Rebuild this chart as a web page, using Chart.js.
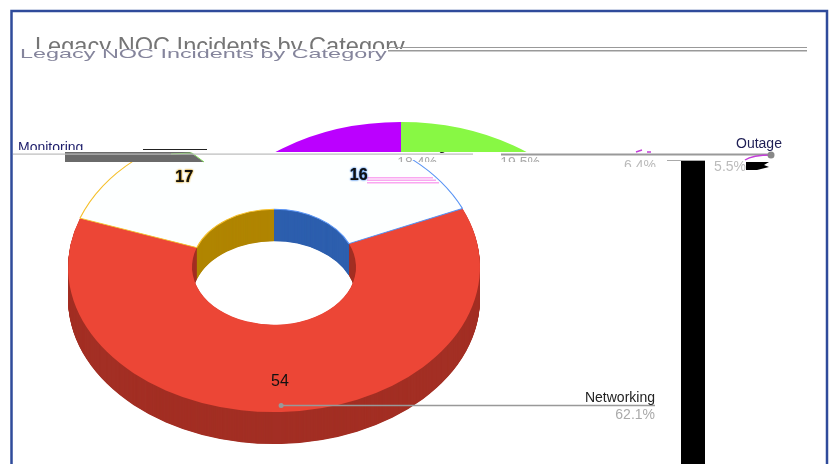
<!DOCTYPE html>
<html>
<head>
<meta charset="utf-8">
<title>Legacy NOC Incidents by Category</title>
<script src="https://cdn.jsdelivr.net/npm/chart.js@4"></script>
<style>
  html, body { margin: 0; padding: 0; background: #fff; overflow: hidden; }
  #wrap { position: relative; width: 830px; height: 464px; }
  canvas { position: absolute; left: 0; top: 0; }
</style>
</head>
<body>
<div id="wrap">
  <canvas id="pieChart" width="830" height="464"></canvas>
  <canvas id="ghostChart" width="830" height="464"></canvas>
</div>
<script>
const chartTitle = 'Legacy NOC Incidents by Category';
// clockwise from 12 o'clock
const categories = ['Routing', 'Networking', 'Monitoring'];
const incidents = [16, 54, 17];
const percents = ['18.4%', '62.1%', '19.5%'];
const strayLabel = 'Outage';
const strayPercents = ['6.4%', '5.5%'];

const topColors = ['#fdffff', '#ec4636', '#fdffff'];
const edgeColors = ['#5b95f5', null, '#f6c02c'];
const wallColors = ['#2d5fae', '#a32f24', '#b08500'];
const ghostColors = ['#88f844', 'rgba(0,0,0,0)', '#bb00ff'];
const labelRadius = [155, 163, 156];
const labelHalo = ['#3b82e6', null, '#d99a00'];

const SQUASH = 0.704;

// chart.js has no 3d pie, so squash the arcs and stack them for the side wall
const squashPlugin = {
    id: 'squash',
    beforeDatasetsDraw(chart, args, opts) {
        if (!opts.depth) return;
        const ctx = chart.ctx;
        const arcs = chart.getDatasetMeta(0).data;
        ctx.save();
        clipBand(ctx, opts);
        for (let d = opts.depth; d > 0; d -= 0.5) {
            ctx.save();
            ctx.translate(0, d);
            squash(ctx, arcs[0]);
            arcs.forEach((arc, i) => {
                const saved = arc.options;
                arc.options = Object.assign({}, saved, { backgroundColor: wallColors[i], borderColor: wallColors[i], borderWidth: 0 });
                arc.draw(ctx);
                arc.options = saved;
            });
            ctx.restore();
        }
        ctx.restore();
    },
    beforeDatasetDraw(chart, args, opts) {
        const ctx = chart.ctx;
        ctx.save();
        clipBand(ctx, opts);
        squash(ctx, args.meta.data[0]);
    },
    afterDatasetDraw(chart, args, opts) {
        const ctx = chart.ctx;
        if (opts.depth) {
            // thin coloured edge on the pale slices, none on the seam between them
            args.meta.data.forEach((arc, i) => {
                if (!edgeColors[i]) return;
                const sideAngle = i === 0 ? arc.endAngle : arc.startAngle;
                ctx.strokeStyle = edgeColors[i];
                ctx.lineWidth = 1.2;
                ctx.beginPath();
                ctx.arc(arc.x, arc.y, arc.outerRadius, arc.startAngle, arc.endAngle);
                ctx.stroke();
                ctx.beginPath();
                ctx.arc(arc.x, arc.y, arc.innerRadius, arc.startAngle, arc.endAngle);
                ctx.stroke();
                ctx.beginPath();
                ctx.moveTo(arc.x + Math.cos(sideAngle) * arc.innerRadius, arc.y + Math.sin(sideAngle) * arc.innerRadius);
                ctx.lineTo(arc.x + Math.cos(sideAngle) * arc.outerRadius, arc.y + Math.sin(sideAngle) * arc.outerRadius);
                ctx.stroke();
            });
        }
        ctx.restore();
    }
};

function clipBand(ctx, opts) {
    ctx.beginPath();
    ctx.rect(0, opts.clipTop, 830, opts.clipBottom - opts.clipTop);
    ctx.clip();
}

function squash(ctx, arc) {
    ctx.translate(arc.x, arc.y);
    ctx.scale(1, SQUASH);
    ctx.translate(-arc.x, -arc.y);
}

function arcPoint(arc, radius) {
    const mid = (arc.startAngle + arc.endAngle) / 2;
    return { x: arc.x + Math.cos(mid) * radius, y: arc.y + Math.sin(mid) * radius * SQUASH };
}

function clippedText(ctx, text, x, y, font, color, align, top, bottom) {
    ctx.save();
    ctx.beginPath();
    ctx.rect(0, top, 830, bottom - top);
    ctx.clip();
    ctx.font = font;
    ctx.fillStyle = color;
    ctx.textAlign = align;
    ctx.textBaseline = 'alphabetic';
    ctx.fillText(text, x, y);
    ctx.restore();
}

const labelPlugin = {
    id: 'pieLabels',
    afterDatasetsDraw(chart) {
        const ctx = chart.ctx;
        const arcs = chart.getDatasetMeta(0).data;

        // pink stripes beside the 16
        ctx.fillStyle = '#f9a8f0';
        ctx.fillRect(367, 177, 66, 1.5);
        ctx.fillRect(367, 179.5, 69, 1.5);
        ctx.fillRect(367, 182, 72, 1.5);

        arcs.forEach((arc, i) => {
            const p = arcPoint(arc, labelRadius[i]);
            ctx.save();
            ctx.textAlign = 'center';
            ctx.textBaseline = 'middle';
            ctx.fillStyle = '#111';
            ctx.font = labelHalo[i] ? 'bold 16px "Liberation Sans"' : '16px "Liberation Sans"';
            if (labelHalo[i]) {
                ctx.shadowColor = labelHalo[i];
                ctx.shadowBlur = 2;
                ctx.fillText(incidents[i], p.x, p.y);
            }
            ctx.fillText(incidents[i], p.x, p.y);
            ctx.restore();
        });

        // leader line to the Networking label
        const dot = arcPoint(arcs[1], 197);
        ctx.strokeStyle = '#999';
        ctx.lineWidth = 1.5;
        ctx.beginPath();
        ctx.moveTo(dot.x, dot.y);
        ctx.lineTo(655, dot.y);
        ctx.stroke();
        ctx.fillStyle = '#999';
        ctx.beginPath();
        ctx.arc(dot.x, dot.y, 2.5, 0, Math.PI * 2);
        ctx.fill();
        clippedText(ctx, categories[1], 655, 402, '14px "Liberation Sans"', '#222', 'right', 380, 410);
        clippedText(ctx, percents[1], 655, 419, '14px "Liberation Sans"', '#aaa', 'right', 405, 425);
    }
};

// the torn strip of the picture: frame, title and stray pieces on top of the pie
const strayPlugin = {
    id: 'stray',
    afterDatasetsDraw(chart) {
        const ctx = chart.ctx;

        // frame
        ctx.strokeStyle = '#2f4b9b';
        ctx.lineWidth = 2.5;
        ctx.strokeRect(11.5, 11, 815.5, 470);

        // title, top half then a flattened copy
        clippedText(ctx, chartTitle, 35, 54, '23.6px "Liberation Sans"', '#757575', 'left', 36, 49);
        ctx.save();
        ctx.translate(0, 55);
        ctx.scale(1, 0.55);
        clippedText(ctx, chartTitle, 20, 6, '23.4px "Liberation Sans"', '#85859c', 'left', -20, 20);
        ctx.restore();
        ctx.fillStyle = '#999';
        ctx.fillRect(388, 47, 419, 1);
        ctx.fillRect(388, 50, 419, 1.5);

        // grey band under Monitoring
        ctx.fillStyle = '#6a6a6a';
        ctx.beginPath();
        ctx.moveTo(65, 152);
        ctx.lineTo(190, 152);
        ctx.lineTo(204, 162);
        ctx.lineTo(65, 162);
        ctx.closePath();
        ctx.fill();
        ctx.strokeStyle = '#7ed957';
        ctx.lineWidth = 1;
        ctx.beginPath();
        ctx.moveTo(171, 154);
        ctx.lineTo(192, 153);
        ctx.lineTo(204, 162);
        ctx.stroke();

        // long rule across the strip
        ctx.fillStyle = '#bbb';
        ctx.fillRect(13, 153.5, 460, 1.2);
        ctx.fillStyle = '#999';
        ctx.fillRect(501, 153.5, 272, 2);
        ctx.fillStyle = '#222';
        ctx.fillRect(143, 149, 64, 1);

        clippedText(ctx, categories[2], 18, 152, '14px "Liberation Sans"', '#1c1c6a', 'left', 130, 150);
        clippedText(ctx, categories[0], 446, 150, '14px "Liberation Sans"', '#222', 'right', 152, 160);
        clippedText(ctx, percents[0], 437, 167, '14px "Liberation Sans"', '#aaa', 'right', 156, 162);
        clippedText(ctx, percents[2], 540, 167, '14px "Liberation Sans"', '#aaa', 'right', 156, 162);
        clippedText(ctx, strayPercents[0], 656, 170, '14px "Liberation Sans"', '#bbb', 'right', 160, 167);
        clippedText(ctx, strayPercents[1], 746, 171, '14px "Liberation Sans"', '#bbb', 'right', 160, 171);
        clippedText(ctx, strayLabel, 736, 148, '14px "Liberation Sans"', '#1f1f55', 'left', 130, 156);

        // black bar and blob on the right
        ctx.fillStyle = '#aaa';
        ctx.fillRect(667, 160, 38, 1);
        ctx.fillStyle = '#000';
        ctx.fillRect(681, 161, 24, 303);
        ctx.beginPath();
        ctx.moveTo(746, 162);
        ctx.lineTo(769, 162);
        ctx.lineTo(764, 165);
        ctx.lineTo(769, 167);
        ctx.lineTo(757, 170);
        ctx.lineTo(746, 170);
        ctx.closePath();
        ctx.fill();

        // Outage marker with its magenta slivers
        ctx.strokeStyle = '#c33fd9';
        ctx.lineWidth = 1.5;
        ctx.beginPath();
        ctx.moveTo(745, 160);
        ctx.quadraticCurveTo(752, 155, 772, 155);
        ctx.moveTo(636, 152);
        ctx.lineTo(642, 150);
        ctx.moveTo(647, 152);
        ctx.lineTo(651, 152);
        ctx.stroke();
        ctx.fillStyle = '#888';
        ctx.beginPath();
        ctx.arc(771, 155, 3.5, 0, Math.PI * 2);
        ctx.fill();
    }
};

function pieOptions(padding, bands) {
    return {
        responsive: false,
        animation: false,
        layout: { padding },
        events: [],
        plugins: {
            legend: { display: false },
            title: { display: false },
            tooltip: { enabled: false },
            squash: bands
        }
    };
}

function pieDataset(colors) {
    return {
        data: incidents,
        backgroundColor: colors,
        borderWidth: 0,
        radius: 206,
        cutout: '39.8%',
        clip: false
    };
}

new Chart(document.getElementById('pieChart'), {
    type: 'doughnut',
    data: { labels: categories, datasets: [pieDataset(topColors)] },
    options: pieOptions({ left: 0, right: 282, top: 70, bottom: 0 }, { clipTop: 160, clipBottom: 464, depth: 32 }),
    plugins: [squashPlugin, labelPlugin]
});

// same slices again, shifted right and cut off above the strip
new Chart(document.getElementById('ghostChart'), {
    type: 'doughnut',
    data: { labels: categories, datasets: [pieDataset(ghostColors)] },
    options: pieOptions({ left: 127, right: 155, top: 70, bottom: 0 }, { clipTop: 0, clipBottom: 152, depth: 0 }),
    plugins: [squashPlugin, strayPlugin]
});
</script>
</body>
</html>
